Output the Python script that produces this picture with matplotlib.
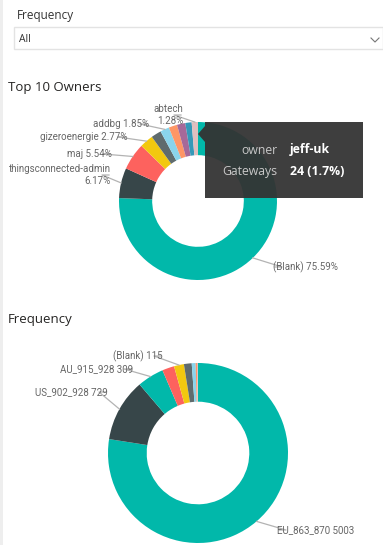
import matplotlib
matplotlib.use('Agg')
import matplotlib.pyplot as plt
from matplotlib.patches import Rectangle, Polygon
from matplotlib.lines import Line2D
import numpy as np

W, H = 383, 545

# Top 10 Owners (share of gateways, %)
owner_names = ['(Blank)', 'thingsconnected-admin', 'maj', 'gizeroenergie', 'owner-5',
               'addbg', 'owner-7', 'jeff-uk', 'owner-9', 'abtech']
owner_pct = [75.59, 6.17, 5.54, 2.77, 2.08, 1.85, 1.72, 1.70, 1.30, 1.28]
owner_shown = ['(Blank)', 'thingsconnected-admin', 'maj', 'gizeroenergie', 'addbg', 'abtech']

# Frequency plan (gateway counts)
freq_names = ['EU_863_870', 'US_902_928', 'AU_915_928', 'plan-4', '(Blank)',
              'plan-6', 'plan-7', 'plan-8', 'plan-9']
freq_counts = [5003, 729, 309, 140, 115, 90, 45, 15, 12]
freq_shown = ['EU_863_870', 'US_902_928', 'AU_915_928', '(Blank)']

# hovered item in the tooltip
tip_owner = 'jeff-uk'
tip_gateways = 24
tip_pct = 1.7

owner_colors = ['#01B8AA', '#374649', '#FD625E', '#F2C80F', '#5F6B6D',
                '#8AD4EB', '#FE9666', '#A66999', '#3599B8', '#DFBFBF']
freq_colors = ['#01B8AA', '#374649', '#01B8AA', '#FD625E', '#F2C80F',
               '#5F6B6D', '#8AD4EB', '#FE9666', '#DFBFBF']

LABEL_FONT = 'Roboto'
TITLE_FONT = 'Open Sans'
LABEL_COL = '#666666'
LEADER_COL = '#b3b3b3'
LABEL_SIZE = 7


def fx(x):
    return x / W


def fy(y):
    return 1 - y / H


fig = plt.figure(figsize=(W / 100, H / 100), dpi=100)
fig.patch.set_facecolor('white')

# light strip on the left edge
fig.add_artist(Rectangle((0, 0), fx(3), 1, transform=fig.transFigure,
                         facecolor='#eeeeee', edgecolor='none'))


def donut(cx, cy, r, values, colors, hole):
    pad = 1.04
    size = 2 * r * pad
    ax = fig.add_axes([fx(cx - r * pad), fy(cy + r * pad), size / W, size / H])
    wedges, _ = ax.pie(values, colors=colors, startangle=90, counterclock=False,
                       wedgeprops=dict(width=1 - hole, linewidth=0))
    ax.set_xlim(-pad, pad)
    ax.set_ylim(-pad, pad)
    ax.set_aspect('equal')
    return ax, wedges


def leader(ax, wedge, tx, ty, side):
    # tx, ty: end of the label text in top-left pixel coords
    mid = np.deg2rad((wedge.theta1 + wedge.theta2) / 2)
    px, py = ax.transData.transform((np.cos(mid), np.sin(mid)))
    py = H - py
    ex = tx + 9 * side
    xs = [tx + 2 * side, ex, px]
    ys = [ty, ty, py]
    fig.add_artist(Line2D([fx(v) for v in xs], [fy(v) for v in ys],
                          transform=fig.transFigure, color=LEADER_COL, lw=0.9))


# ---- slicer header ----
fig.text(fx(17), fy(15), 'Frequency', fontsize=8.5, family=TITLE_FONT,
         color='#333333', va='center', ha='left')
fig.add_artist(Rectangle((fx(14), fy(49)), fx(383) - fx(14), fy(27) - fy(49),
                         transform=fig.transFigure, facecolor='white',
                         edgecolor='#e3e3e3', lw=1))
fig.text(fx(19), fy(40), 'All', fontsize=7.5, family=TITLE_FONT,
         color='#333333', va='center', ha='left')
fig.add_artist(Line2D([fx(371), fx(375), fx(379)], [fy(38), fy(42), fy(38)],
                      transform=fig.transFigure, color='#777777', lw=0.8))

# ---- Top 10 Owners ----
fig.text(fx(8), fy(87), 'Top 10 Owners', fontsize=9.5, family=TITLE_FONT,
         color='#252423', va='center', ha='left')
ax1, w1 = donut(198, 201, 79, owner_pct, owner_colors, 0.58)

owner_pos = {
    '(Blank)': (273, 267, 1, False),
    'thingsconnected-admin': (111, 175, -1, True),
    'maj': (112, 154, -1, False),
    'gizeroenergie': (127, 137, -1, False),
    'addbg': (149, 124, -1, False),
    'abtech': (183, 115, -1, True),
}
for name in owner_shown:
    i = owner_names.index(name)
    tx, ty, side, two = owner_pos[name]
    txt = f'{name}\n{owner_pct[i]:.2f}%' if two else f'{name} {owner_pct[i]:.2f}%'
    fig.text(fx(tx), fy(ty), txt, fontsize=LABEL_SIZE, family=LABEL_FONT, color=LABEL_COL,
             ha='left' if side > 0 else 'right', va='center',
             multialignment='right', linespacing=1.15)
    leader(ax1, w1[i], tx, ty, side)

# tooltip
fig.add_artist(Rectangle((fx(205), fy(198)), fx(363) - fx(205), fy(122) - fy(198),
                         transform=fig.transFigure, facecolor='#333333',
                         edgecolor='none', alpha=0.95, zorder=5))
fig.add_artist(Polygon([(fx(198), fy(134)), (fx(205), fy(126)), (fx(205), fy(142))],
                       closed=True, transform=fig.transFigure, facecolor='#333333',
                       edgecolor='none', alpha=0.95, zorder=5))
fig.text(fx(277), fy(150), 'owner', fontsize=8.8, family=TITLE_FONT, color='#c8c8c8',
         ha='right', va='center', zorder=6)
fig.text(fx(290), fy(150), tip_owner, fontsize=8.8, family=TITLE_FONT, color='white',
         fontweight='bold', ha='left', va='center', zorder=6)
fig.text(fx(277), fy(171), 'Gateways', fontsize=8.8, family=TITLE_FONT, color='#c8c8c8',
         ha='right', va='center', zorder=6)
fig.text(fx(290), fy(171), f'{tip_gateways} ({tip_pct}%)', fontsize=8.8,
         family=TITLE_FONT, color='white', fontweight='bold', ha='left',
         va='center', zorder=6)

# ---- Frequency donut ----
fig.text(fx(8), fy(320), 'Frequency', fontsize=9.5, family=TITLE_FONT,
         color='#252423', va='center', ha='left')
ax2, w2 = donut(198, 453, 90, freq_counts, freq_colors, 0.57)

freq_pos = {
    'EU_863_870': (277, 530, 1),
    'US_902_928': (108, 392, -1),
    'AU_915_928': (133, 369, -1),
    '(Blank)': (163, 356, -1),
}
for name in freq_shown:
    i = freq_names.index(name)
    tx, ty, side = freq_pos[name]
    fig.text(fx(tx), fy(ty), f'{name} {freq_counts[i]}', fontsize=LABEL_SIZE,
             family=LABEL_FONT, color=LABEL_COL,
             ha='left' if side > 0 else 'right', va='center')
    leader(ax2, w2[i], tx, ty, side)

fig.savefig('out.png', dpi=100)
